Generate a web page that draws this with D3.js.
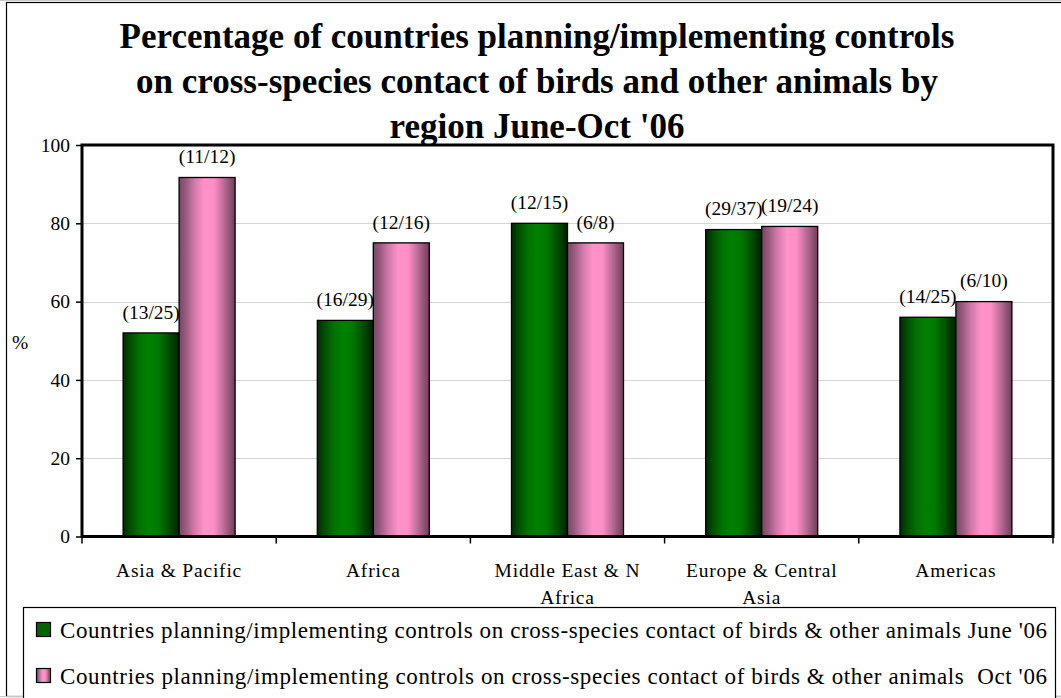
<!DOCTYPE html>
<html>
<head>
<meta charset="utf-8">
<script src="https://cdn.jsdelivr.net/npm/d3@7"></script>
<style>
  html, body { margin: 0; padding: 0; background: #fff; }
  svg { display: block; }
</style>
</head>
<body>
<svg id="chart" width="1061" height="698"></svg>
<script>
// Regions and the two survey rounds
const categories = ["Asia & Pacific", "Africa", "Middle East & N Africa", "Europe & Central Asia", "Americas"];
const seriesNames = [
  "Countries planning/implementing controls on cross-species contact of birds & other animals June '06",
  "Countries planning/implementing controls on cross-species contact of birds & other animals  Oct '06"
];
// Counts behind each bar: countries with controls / countries reporting
const juneCounts = [[13, 25], [16, 29], [12, 15], [29, 37], [14, 25]];
const octCounts  = [[11, 12], [12, 16], [6, 8], [19, 24], [6, 10]];
// Percentages plotted
const juneValues = [52.0, 55.2, 80.0, 78.4, 56.0];
const octValues  = [91.7, 75.0, 75.0, 79.2, 60.0];
const yTicks = [0, 20, 40, 60, 80, 100];
const titleLines = [
  "Percentage of countries planning/implementing controls",
  "on cross-species contact of birds and other animals by",
  "region June-Oct '06"
];

const SERIF = "'Liberation Serif', 'Times New Roman', Times, serif";
const svg = d3.select("#chart");
const W = 1061, H = 698;
const plot = { left: 82, right: 1053, top: 145, bottom: 536.5 };

// Outer chart frame
svg.append("line").attr("x1", 0).attr("x2", W).attr("y1", 0.5).attr("y2", 0.5).attr("stroke", "#c8c8c8");
svg.append("rect").attr("x", 6.5).attr("y", 2.5).attr("width", W + 10).attr("height", H - 4)
  .attr("fill", "none").attr("stroke", "#000").attr("stroke-width", 1.2);
svg.append("line").attr("x1", 0).attr("x2", W).attr("y1", H - 1.5).attr("y2", H - 1.5).attr("stroke", "#c8c8c8");

// Gradients giving the bars a rounded, shaded look
const defs = svg.append("defs");
function gradient(id, stops) {
  const g = defs.append("linearGradient").attr("id", id)
    .attr("x1", "0%").attr("x2", "100%").attr("y1", "0%").attr("y2", "0%");
  stops.forEach(([o, c]) => g.append("stop").attr("offset", o).attr("stop-color", c));
}
gradient("gGreen", [["0%", "#002a00"], ["12%", "#004d00"], ["30%", "#007300"], ["45%", "#008000"],
  ["62%", "#007a00"], ["80%", "#005200"], ["100%", "#001f00"]]);
gradient("gPink", [["0%", "#7a4564"], ["12%", "#9a5a7e"], ["28%", "#d47aac"], ["45%", "#ff92c9"],
  ["62%", "#ff8fc6"], ["78%", "#c06f9c"], ["100%", "#6e3e5a"]]);
const fills = ["url(#gGreen)", "url(#gPink)"];
const swatchFills = ["#006400", "url(#gPink)"];

const x = d3.scaleBand().domain(categories).range([plot.left, plot.right]).padding(0);
const groupFrac = 112 / 194.2;
const x1 = d3.scaleBand().domain([0, 1])
  .range([x.bandwidth() * (1 - groupFrac) / 2, x.bandwidth() * (1 + groupFrac) / 2]).padding(0);
const y = d3.scaleLinear().domain([0, 100]).range([plot.bottom, plot.top]);

// Title
svg.append("text").attr("text-anchor", "middle")
  .style("font-family", SERIF).style("font-size", "35px").style("font-weight", "bold")
  .selectAll("tspan").data(titleLines).join("tspan")
  .attr("x", 537).attr("y", (d, i) => 48 + i * 45).text(d => d);

// Gridlines
svg.append("g").selectAll("line").data(yTicks.filter(t => t > 0 && t < 100)).join("line")
  .attr("x1", plot.left).attr("x2", plot.right)
  .attr("y1", d => Math.round(y(d)) + 0.5).attr("y2", d => Math.round(y(d)) + 0.5)
  .attr("stroke", "#d4d4d4").attr("stroke-width", 1.2);

// Bars
const rows = categories.map((c, i) => ({
  cat: c,
  vals: [juneValues[i], octValues[i]],
  counts: [juneCounts[i], octCounts[i]]
}));
const grp = svg.append("g").selectAll("g").data(rows).join("g")
  .attr("transform", d => `translate(${x(d.cat)},0)`);
grp.selectAll("rect").data(d => d.vals.map((v, s) => ({ v, s }))).join("rect")
  .attr("x", d => x1(d.s)).attr("width", x1.bandwidth())
  .attr("y", d => y(d.v)).attr("height", d => y(0) - y(d.v))
  .attr("fill", d => fills[d.s]).attr("stroke", "#000").attr("stroke-width", 1.3);

// Count labels above bars
grp.selectAll("text.lbl").data(d => d.vals.map((v, s) => ({ v, s, c: d.counts[s] }))).join("text")
  .attr("class", "lbl").attr("text-anchor", "middle")
  .attr("x", d => x1(d.s) + x1.bandwidth() / 2)
  .attr("y", d => y(d.v) - 21).attr("dy", "0.35em")
  .style("font-family", SERIF).style("font-size", "19.5px")
  .text(d => `(${d.c[0]}/${d.c[1]})`);

// Plot border
svg.append("rect").attr("x", plot.left).attr("y", plot.top)
  .attr("width", plot.right - plot.left).attr("height", plot.bottom - plot.top)
  .attr("fill", "none").attr("stroke", "#000").attr("stroke-width", 3);

// Y axis
const yAxis = svg.append("g").attr("transform", `translate(${plot.left},0)`)
  .call(d3.axisLeft(y).tickValues(yTicks).tickSize(6).tickPadding(6));
yAxis.attr("font-family", null).attr("font-size", null);
yAxis.select(".domain").remove();
yAxis.selectAll("line").attr("stroke", "#000").attr("stroke-width", 1.5);
yAxis.selectAll("text").style("font-family", SERIF).style("font-size", "19.5px");

svg.append("text").attr("x", 20).attr("y", 342).attr("dy", "0.35em").attr("text-anchor", "middle")
  .style("font-family", SERIF).style("font-size", "19.5px").text("%");

// X axis: ticks at category boundaries
const bounds = categories.map(c => x(c)).concat([plot.right]);
svg.append("g").selectAll("line").data(bounds).join("line")
  .attr("x1", d => d).attr("x2", d => d)
  .attr("y1", plot.bottom).attr("y2", plot.bottom + 7)
  .attr("stroke", "#000").attr("stroke-width", 1.5);

// Category labels, wrapped to the band width
function wrapLines(str, maxW, size) {
  const probe = svg.append("text").style("font-family", SERIF).style("font-size", size + "px")
    .attr("letter-spacing", "0.8px");
  const words = str.split(" ");
  const lines = [];
  let cur = "";
  words.forEach(w => {
    const t = cur ? cur + " " + w : w;
    probe.text(t);
    if (probe.node().getComputedTextLength() > maxW && cur) { lines.push(cur); cur = w; }
    else cur = t;
  });
  lines.push(cur);
  probe.remove();
  return lines;
}
categories.forEach(c => {
  const lines = wrapLines(c, 165, 19.5);
  svg.append("text").attr("text-anchor", "middle")
    .style("font-family", SERIF).style("font-size", "19.5px")
    .attr("letter-spacing", "0.8px")
    .selectAll("tspan").data(lines).join("tspan")
    .attr("x", x(c) + x.bandwidth() / 2)
    .attr("y", (d, i) => 577 + i * 27).text(d => d);
});

// Legend
const lg = svg.append("g");
lg.append("rect").attr("x", 23.5).attr("y", 607.5).attr("width", 1032).attr("height", 100)
  .attr("fill", "#fff").attr("stroke", "#000").attr("stroke-width", 1.2);
seriesNames.forEach((name, i) => {
  const cy = 629.5 + i * 46;
  lg.append("rect").attr("x", 36.5).attr("y", cy - 7).attr("width", 14).attr("height", 14)
    .attr("fill", swatchFills[i]).attr("stroke", "#000").attr("stroke-width", 1.2);
  lg.append("text").attr("x", 60).attr("y", cy).attr("dy", "0.35em")
    .style("font-family", SERIF).style("font-size", "23px").style("white-space", "pre")
    .attr("textLength", 987).attr("lengthAdjust", "spacing")
    .text(name);
});
</script>
</body>
</html>
